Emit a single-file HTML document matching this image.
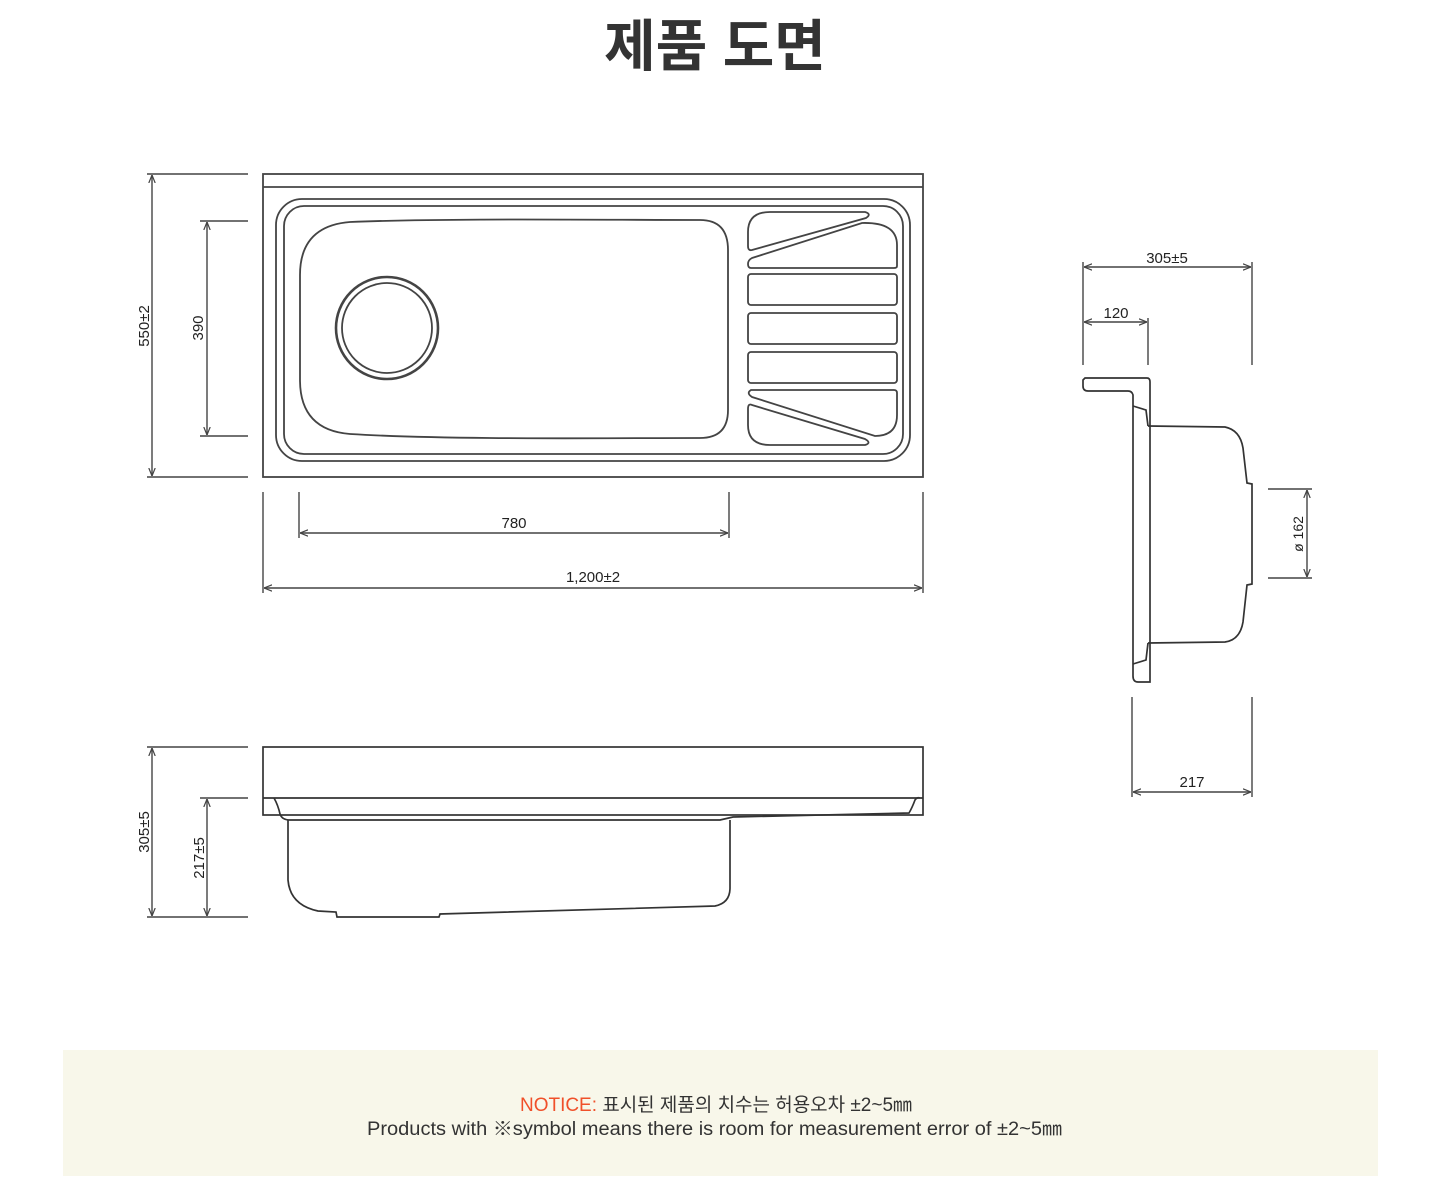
<!DOCTYPE html>
<html><head><meta charset="utf-8"><style>
html,body{margin:0;padding:0;background:#fff;}
svg{display:block;}
</style></head><body>
<svg width="1446" height="1194" viewBox="0 0 1446 1194" xmlns="http://www.w3.org/2000/svg">
<defs>
<marker id="a" viewBox="0 0 10 10" refX="10" refY="5" markerWidth="8" markerHeight="8" orient="auto-start-reverse" markerUnits="userSpaceOnUse"><path d="M0,1 L10,5 L0,9" fill="none" stroke="#444" stroke-width="1.5"/></marker>
</defs>
<text x="715" y="66" text-anchor="middle" font-family="'Liberation Sans','Noto Sans CJK KR',sans-serif" font-weight="bold" font-size="56" fill="#333">제품 도면</text>

<g fill="none" stroke="#444" stroke-width="1.8">
<!-- top view -->
<rect x="263" y="174" width="660" height="303"/>
<line x1="263" y1="187" x2="923" y2="187"/>
<rect x="276" y="199" width="634" height="262" rx="26"/>
<rect x="284" y="206" width="619" height="248" rx="20"/>
<path d="M350,222 C450,218 600,220 700,220 Q728,220 728,250 L728,410 Q728,438 700,438 C600,438 450,440 350,434 Q300,430 300,380 L300,275 Q300,226 350,222 Z"/>
<circle cx="387" cy="328" r="51" stroke-width="2.6"/>
<circle cx="387" cy="328" r="45"/>
<!-- drainer -->
<path d="M770,212 L865,212 Q872,214 866,218 L752,250 Q748,251 748,246 L748,232 Q748,212 770,212 Z"/>
<path d="M752,258 L862,223 Q897,222 897,245 L897,266 Q897,268 894,268 L751,268 Q748,268 748,264 Q748,260 752,258 Z"/>
<rect x="748" y="274" width="149" height="31" rx="3"/>
<rect x="748" y="313" width="149" height="31" rx="3"/>
<rect x="748" y="352" width="149" height="31" rx="3"/>
<path d="M751,390 L894,390 Q897,390 897,393 L897,415 Q897,436 875,436 L752,397 Q746,393 751,390 Z"/>
<path d="M752,405 L865,439 Q872,443 865,445 L770,445 Q748,445 748,425 L748,409 Q748,403 752,405 Z"/>
</g>

<g stroke="#444" stroke-width="1.4" fill="none">
<line x1="147" y1="174" x2="248" y2="174"/><line x1="147" y1="477" x2="248" y2="477"/>
<line x1="152" y1="175" x2="152" y2="476" marker-start="url(#a)" marker-end="url(#a)"/>
<line x1="200" y1="221" x2="248" y2="221"/><line x1="200" y1="436" x2="248" y2="436"/>
<line x1="207" y1="222" x2="207" y2="435" marker-start="url(#a)" marker-end="url(#a)"/>
<line x1="299" y1="492" x2="299" y2="538"/><line x1="729" y1="492" x2="729" y2="538"/>
<line x1="300" y1="533" x2="728" y2="533" marker-start="url(#a)" marker-end="url(#a)"/>
<line x1="263" y1="492" x2="263" y2="593"/><line x1="923" y1="492" x2="923" y2="593"/>
<line x1="264" y1="588" x2="922" y2="588" marker-start="url(#a)" marker-end="url(#a)"/>
<!-- side dims -->
<line x1="1083" y1="262" x2="1083" y2="365"/><line x1="1252" y1="262" x2="1252" y2="365"/>
<line x1="1084" y1="267" x2="1251" y2="267" marker-start="url(#a)" marker-end="url(#a)"/>
<line x1="1148" y1="318" x2="1148" y2="365"/>
<line x1="1084" y1="322" x2="1147" y2="322" marker-start="url(#a)" marker-end="url(#a)"/>
<line x1="1268" y1="489" x2="1312" y2="489"/><line x1="1268" y1="578" x2="1312" y2="578"/>
<line x1="1307" y1="490" x2="1307" y2="577" marker-start="url(#a)" marker-end="url(#a)"/>
<line x1="1132" y1="697" x2="1132" y2="797"/><line x1="1252" y1="697" x2="1252" y2="797"/>
<line x1="1133" y1="792" x2="1251" y2="792" marker-start="url(#a)" marker-end="url(#a)"/>
<!-- front dims -->
<line x1="147" y1="747" x2="248" y2="747"/><line x1="147" y1="917" x2="248" y2="917"/>
<line x1="152" y1="748" x2="152" y2="916" marker-start="url(#a)" marker-end="url(#a)"/>
<line x1="200" y1="798" x2="248" y2="798"/>
<line x1="207" y1="799" x2="207" y2="916" marker-start="url(#a)" marker-end="url(#a)"/>
</g>

<g fill="none" stroke="#333" stroke-width="1.7">
<!-- side profile -->
<path d="M1085,378 L1147,378 Q1150,378 1150,382 L1150,682 L1138,682 Q1133,682 1133,676 L1133,395 Q1132,391 1128,391 L1088,391 Q1083,391 1083,386 L1083,380 Z"/>
<path d="M1133,406 L1146,410 L1148,426"/>
<path d="M1133,664 L1146,660 L1148,643"/>
<path d="M1148,426 L1225,427 Q1240,430 1243,448 L1247,483 L1252,484 L1252,584 L1247,585 L1243,622 Q1240,640 1225,642 L1148,643"/>
<!-- front view -->
<rect x="263" y="747" width="660" height="68"/>
<line x1="263" y1="798" x2="923" y2="798"/>
<path d="M274,798 Q278,805 280,814 Q282,820 290,820 L720,820 L733,817 L909,813 Q912,808 915,800 Q917,797 920,798"/>
<path d="M288,820 L288,880 Q290,905 318,911 L336,912 L337,917 L439,917 L440,914 L715,906 Q730,903 730,888 L730,820"/>
</g>
<g font-family="'Liberation Sans',sans-serif" font-size="15" fill="#222">
<text x="514" y="528" text-anchor="middle">780</text>
<text x="593" y="582" text-anchor="middle">1,200±2</text>
<text x="1167" y="263" text-anchor="middle">305±5</text>
<text x="1116" y="318" text-anchor="middle">120</text>
<text x="1192" y="787" text-anchor="middle">217</text>
<text transform="translate(149,326) rotate(-90)" text-anchor="middle">550±2</text>
<text transform="translate(203,328) rotate(-90)" text-anchor="middle">390</text>
<text transform="translate(149,832) rotate(-90)" text-anchor="middle">305±5</text>
<text transform="translate(204,858) rotate(-90)" text-anchor="middle">217±5</text>
<text transform="translate(1303,534) rotate(-90)" text-anchor="middle" font-size="14">ø 162</text>
</g>
<rect x="63" y="1050" width="1315" height="126" fill="#f8f7ea"/>
<g font-family="'Liberation Sans','Noto Sans CJK KR',sans-serif" font-size="19">
<text x="520" y="1111" textLength="392" lengthAdjust="spacingAndGlyphs"><tspan fill="#f0502a">NOTICE:</tspan><tspan fill="#333"> 표시된 제품의 치수는 허용오차 ±2~5㎜</tspan></text>
<text x="367" y="1135" textLength="695" lengthAdjust="spacingAndGlyphs" fill="#333">Products with ※symbol means there is room for measurement error of ±2~5㎜</text>
</g>
</svg>
</body></html>
